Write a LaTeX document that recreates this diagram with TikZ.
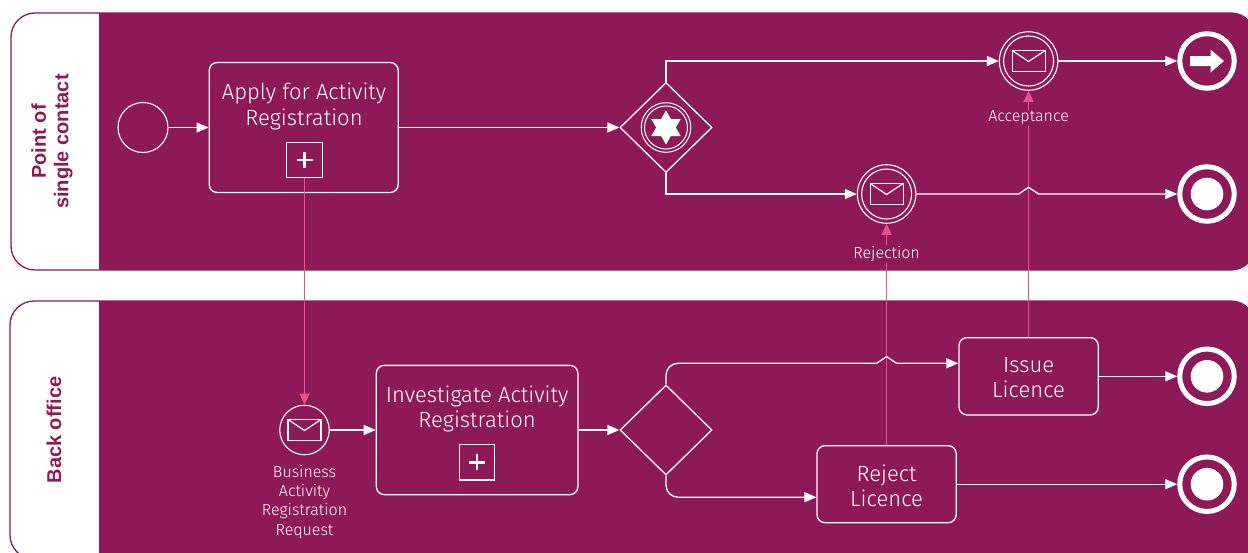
\documentclass[tikz,border=0pt]{standalone}
\usepackage{fontspec}
\usetikzlibrary{arrows.meta,shapes.geometric,calc}
\IfFontExistsTF{Fira Sans Light}{\newfontfamily\thinfont{Fira Sans Light}}{\newfontfamily\thinfont{Liberation Sans}}
\newfontfamily\lanefont{Liberation Sans}
\definecolor{bpurple}{RGB}{142,25,87}
\definecolor{bpink}{RGB}{232,82,140}
\tikzset{
  envelope/.pic={
    \draw[white, line width=1.2pt] (-16.5,-10.5) rectangle (16.5,10.5);
    \draw[white, line width=1.2pt] (-16.5,-10.5) -- (0,0.5) -- (16.5,-10.5);
  }
}
\begin{document}
\begin{tikzpicture}[x=1pt,y=-1pt,
  seq/.style={draw=white, line width=1.3pt, -{Triangle[length=12pt,width=10pt]}},
  seqline/.style={draw=white, line width=1.3pt},
  msg/.style={draw=bpink, line width=1.1pt, -{Triangle[length=11pt,width=10pt]}},
  task/.style={draw=white, line width=1.3pt, rounded corners=8pt, rectangle, inner sep=0pt},
  tasktext/.style={text=white, font=\thinfont\fontsize{22}{25.3}\selectfont, align=center, inner sep=0pt},
  marker/.style={draw=white, line width=1.3pt, rectangle, minimum size=35.5pt, inner sep=0pt},
  evt/.style={circle, draw=white, line width=1.1pt, inner sep=0pt},
  endevt/.style={circle, draw=white, line width=5pt, minimum size=54.5pt, inner sep=0pt},
  gw/.style={diamond, draw=white, line width=1.3pt, minimum width=92pt, minimum height=90pt, inner sep=0pt},
  evtlabel/.style={text=white, font=\thinfont\fontsize{16}{19.1}\selectfont, align=center, inner sep=1pt, fill=bpurple},
  lanelabel/.style={text=bpurple, font=\lanefont\bfseries\fontsize{20}{22.6}\selectfont, align=center, rotate=90, inner sep=0pt}
]
\useasboundingbox (0,0) rectangle (1248,552);
\clip (0,0) rectangle (1248,552);
\fill[white] (0,0) rectangle (1248,552);

% lanes
\begin{scope}
  \clip[rounded corners=24pt] (11,13) rectangle (1255,270);
  \fill[bpurple] (99,13) rectangle (1255,270);
\end{scope}
\draw[bpurple, line width=1.3pt, rounded corners=24pt] (11,13) rectangle (1255,270);
\begin{scope}
  \clip[rounded corners=24pt] (10,301) rectangle (1255,559);
  \fill[bpurple] (99,301) rectangle (1255,559);
\end{scope}
\draw[bpurple, line width=1.3pt, rounded corners=24pt] (10,301) rectangle (1255,559);

\node[lanelabel] (lane1) at (52,141.5) {Point of\\single contact};
\node[lanelabel] (lane2) at (54,430) {Back office};

% top lane nodes
\node[evt, minimum size=50pt] (start) at (143,127.5) {};
\node[task, minimum width=189pt, minimum height=130pt] (apply) at (303.7,127.5) {};
\node[tasktext] (applyT) at (304,106.5) {Apply for Activity\\Registration};
\node[marker] (plus1) at (304.5,160) {};
\draw[white, line width=2.6pt, shift={(plus1.center)}] (-8,0) -- (8,0) (0,-8) -- (0,8);

\node[gw] (gw1) at (666,127.5) {};
\draw[white, line width=1pt] (gw1.center) circle[radius=24.8pt];
\draw[white, line width=1pt] (gw1.center) circle[radius=21.5pt];
\fill[white, shift={(gw1.center)}] (90:17) -- (210:17) -- (330:17) -- cycle;
\fill[white, shift={(gw1.center)}] (270:17) -- (30:17) -- (150:17) -- cycle;

\node[evt, minimum size=58.5pt] (acc) at (1028.6,61) {};
\draw[white, line width=1.1pt] (acc.center) circle[radius=25pt];
\pic at (acc.center) {envelope};
\node[endevt] (endA) at (1207,61) {};
\fill[white, shift={(endA.center)}] (-17,-5) -- (3.5,-5) -- (3.5,-11.5) -- (17,0) -- (3.5,11.5) -- (3.5,5) -- (-17,5) -- cycle;

\node[evt, minimum size=58.5pt] (rej) at (886.6,194) {};
\draw[white, line width=1.1pt] (rej.center) circle[radius=25pt];
\pic at (rej.center) {envelope};
\node[endevt] (endB) at (1207,194) {};
\fill[white] (endB.center) circle[radius=16.3pt];

% bottom lane nodes
\node[evt, minimum size=49.5pt] (barr) at (304.5,430) {};
\pic at (barr.center) {envelope};
\node[task, minimum width=201.6pt, minimum height=129.3pt] (inv) at (477.1,430) {};
\node[tasktext] (invT) at (477.1,408.8) {Investigate Activity\\Registration};
\node[marker] (plus2) at (477,462.3) {};
\draw[white, line width=2.6pt, shift={(plus2.center)}] (-8,0) -- (8,0) (0,-8) -- (0,8);

\node[gw] (gw2) at (666,430) {};
\node[task, minimum width=139.3pt, minimum height=77.3pt] (issue) at (1028.6,376.3) {};
\node[tasktext] (issueT) at (1028.6,377.8) {Issue\\Licence};
\node[task, minimum width=139.2pt, minimum height=77pt] (reject) at (886.6,484.2) {};
\node[tasktext] (rejectT) at (886.6,485.7) {Reject\\Licence};
\node[endevt] (endC) at (1207,376.3) {};
\fill[white] (endC.center) circle[radius=16.3pt];
\node[endevt] (endD) at (1207,484.2) {};
\fill[white] (endD.center) circle[radius=16.3pt];

% message flows
\draw[msg] (plus1.south) -- (barr.north);
\draw[msg] (reject.north) -- (rej.south);
\draw[msg] (issue.north) -- (acc.south);

% sequence flows, top lane
\draw[seq] (start.east) -- (start.east -| apply.west);
\draw[seq] (apply.east) -- (gw1.west);
\draw[seq] (gw1.north) |- (acc.west);
\draw[seq] (acc.east) -- (endA.west);
\draw[seq] (gw1.south) |- (rej.west);
\coordinate (h1a) at ($(acc.south |- rej.east)+(-10,0)$);
\coordinate (h1t) at ($(acc.south |- rej.east)+(0,-6.7)$);
\coordinate (h1b) at ($(acc.south |- rej.east)+(10,0)$);
\draw[seq] (rej.east) -- (h1a) -- (h1t) -- (h1b) -- (endB.west);

% sequence flows, bottom lane
\draw[seq] (barr.east) -- (inv.west);
\draw[seq] (inv.east) -- (gw2.west);
\coordinate (br2) at ([yshift=13pt]issue.west);
\coordinate (h2a) at ($(reject.north |- br2)+(-10,0)$);
\coordinate (h2t) at ($(reject.north |- br2)+(0,-6.7)$);
\coordinate (h2b) at ($(reject.north |- br2)+(10,0)$);
\draw[seqline, rounded corners=12pt] (gw2.north) |- (h2a);
\draw[seq] (h2a) -- (h2t) -- (h2b) -- (br2);
\draw[seq, rounded corners=12pt] (gw2.south) |- ([yshift=-13pt]reject.west);
\draw[seq] (issue.east) -- (endC.west);
\draw[seq] (reject.east) -- (endD.west);

% labels
\node[evtlabel] (rejL) at (886.6,254) {Rejection};
\node[evtlabel] (accL) at (1028.6,118) {Acceptance};
\node[evtlabel, fill=none] (barrL) at (304.5,502) {Business\\Activity\\Registration\\Request};
\end{tikzpicture}
\end{document}
